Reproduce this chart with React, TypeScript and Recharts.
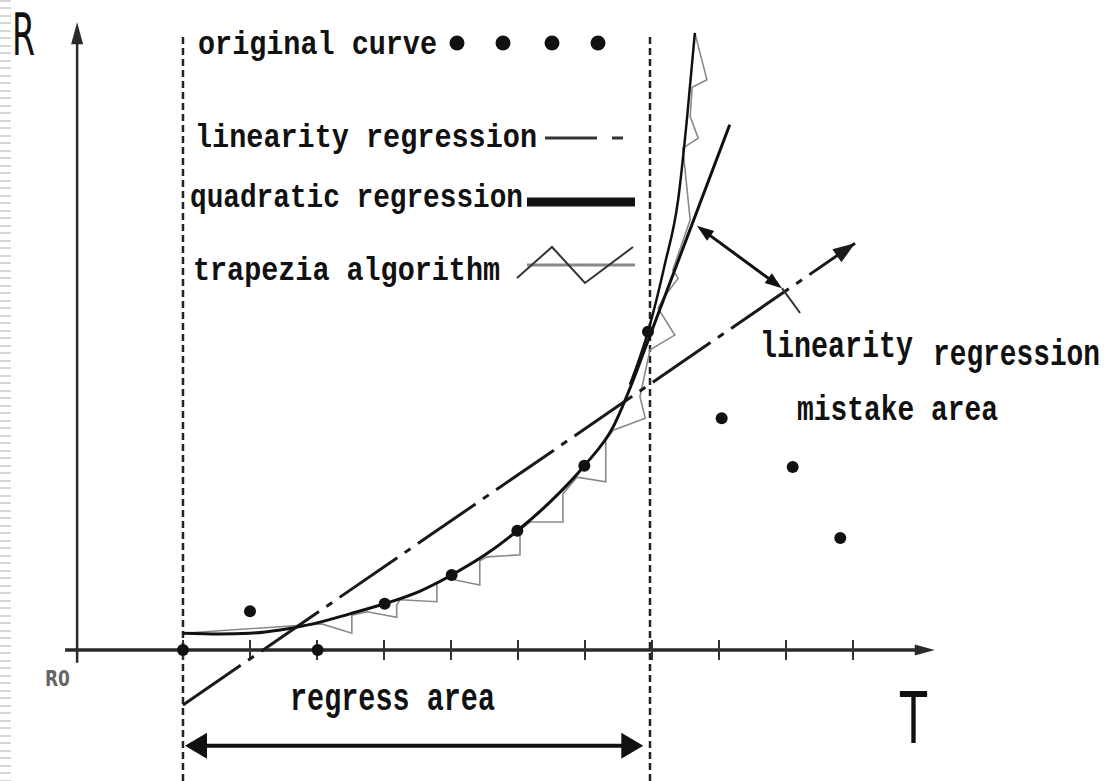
import React from 'react';
import { ComposedChart, Line, Scatter, XAxis, YAxis, ReferenceLine, ReferenceDot, Legend } from 'recharts';

// ---- data (T = time, R = resistance) ----
const originalCurve = [
  { T: 0, R: 0 }, { T: 1.0, R: 0.58 }, { T: 2.01, R: 0 }, { T: 3.01, R: 0.69 }, { T: 4.01, R: 1.12 },
  { T: 4.99, R: 1.78 }, { T: 5.99, R: 2.75 }, { T: 6.94, R: 4.75 }, { T: 8.04, R: 3.46 },
  { T: 9.1, R: 2.73 }, { T: 9.81, R: 1.67 },
];

const quadraticRegression = [
  { T: 0, R: 0.25 }, { T: 0.55, R: 0.24 }, { T: 1.0, R: 0.25 }, { T: 1.45, R: 0.3 }, { T: 1.94, R: 0.39 },
  { T: 2.49, R: 0.54 }, { T: 3.01, R: 0.69 }, { T: 3.54, R: 0.88 }, { T: 4.01, R: 1.12 }, { T: 4.51, R: 1.42 },
  { T: 4.99, R: 1.78 }, { T: 5.48, R: 2.21 }, { T: 5.99, R: 2.75 }, { T: 6.42, R: 3.33 }, { T: 6.72, R: 4.03 },
  { T: 6.87, R: 4.43 }, { T: 8.16, R: 7.84 },
];

const steepCurve = [
  { T: 6.67, R: 3.96 }, { T: 6.94, R: 4.75 }, { T: 7.19, R: 5.75 }, { T: 7.39, R: 6.72 },
  { T: 7.52, R: 7.91 }, { T: 7.64, R: 9.21 },
];

const trapeziaAlgorithm = [
  { T: 0, R: 0.25 }, { T: 2.07, R: 0.39 }, { T: 2.52, R: 0.25 }, { T: 2.52, R: 0.52 }, { T: 2.75, R: 0.57 },
  { T: 3.19, R: 0.49 }, { T: 3.19, R: 0.67 }, { T: 3.24, R: 0.75 }, { T: 3.79, R: 0.72 }, { T: 3.79, R: 0.99 },
  { T: 3.94, R: 1.07 }, { T: 4.43, R: 0.97 }, { T: 4.43, R: 1.33 }, { T: 4.54, R: 1.39 }, { T: 5.03, R: 1.42 },
  { T: 5.03, R: 1.79 }, { T: 5.18, R: 1.91 }, { T: 5.67, R: 1.91 }, { T: 5.67, R: 2.33 }, { T: 5.88, R: 2.58 },
  { T: 6.31, R: 2.51 }, { T: 6.31, R: 3.13 }, { T: 6.42, R: 3.28 }, { T: 6.9, R: 3.46 }, { T: 6.82, R: 3.78 },
  { T: 6.97, R: 4.48 }, { T: 7.34, R: 4.7 }, { T: 7.09, R: 5.1 }, { T: 7.19, R: 5.28 }, { T: 7.39, R: 5.55 },
  { T: 7.31, R: 5.67 }, { T: 7.57, R: 6.42 }, { T: 7.46, R: 7.49 }, { T: 7.69, R: 7.64 }, { T: 7.57, R: 7.96 },
  { T: 7.6, R: 8.4 }, { T: 7.82, R: 8.51 }, { T: 7.64, R: 9.21 },
];

const linearityRegression = [{ T: 0, R: -0.82 }, { T: 10.03, R: 6.07 }];

const xAxisLine = [{ T: -1.76, R: 0 }, { T: 11.22, R: 0 }];
const yAxisLine = [{ T: -1.58, R: -0.19 }, { T: -1.58, R: 9.37 }];
const tickValues = [0, 1, 2, 3, 4, 5, 6, 7, 8, 9, 10];
const tickHalf = 0.15;
const boundaryT = [0, 6.97];
const boundaryR = [-1.955, 9.2];
const regressArrow = [{ T: 0.03, R: -1.43 }, { T: 6.87, R: -1.43 }];
const mistakeArrow = [{ T: 7.67, R: 6.33 }, { T: 8.94, R: 5.4 }, { T: 9.21, R: 5.03 }];

const xDomain = [-2.731, 13.761];
const yDomain = [-1.955, 9.701];

const legendItems = ['original curve', 'linearity regression', 'quadratic regression', 'trapezia algorithm'];

// ---- helpers ----
const MONO = "'Liberation Mono', monospace";
const SANS = "'DejaVu Sans', sans-serif";

function headPoints(x1: number, y1: number, x2: number, y2: number, L: number, W: number) {
  const dx = x2 - x1, dy = y2 - y1;
  const len = Math.hypot(dx, dy) || 1;
  const ux = dx / len, uy = dy / len;
  const bx = x2 - ux * L, by = y2 - uy * L;
  const nx = -uy, ny = ux;
  return `${x2},${y2} ${bx + nx * W},${by + ny * W} ${bx - nx * W},${by - ny * W}`;
}

type ArrowOpts = { color: string; width: number; L?: number; W?: number; start?: boolean; end?: boolean; dash?: string; line?: boolean };

const arrowShape = (o: ArrowOpts) => (p: any) => {
  const x1 = Number(p.x1), y1 = Number(p.y1), x2 = Number(p.x2), y2 = Number(p.y2);
  const L = o.L ?? 0, W = o.W ?? 0;
  const len = Math.hypot(x2 - x1, y2 - y1) || 1;
  const ux = (x2 - x1) / len, uy = (y2 - y1) / len;
  const sx = o.start ? x1 + ux * L * 0.6 : x1;
  const sy = o.start ? y1 + uy * L * 0.6 : y1;
  const ex = o.end ? x2 - ux * L * 0.6 : x2;
  const ey = o.end ? y2 - uy * L * 0.6 : y2;
  return (
    <g>
      {o.line !== false && (
        <line x1={sx} y1={sy} x2={ex} y2={ey} stroke={o.color} strokeWidth={o.width} strokeDasharray={o.dash} />
      )}
      {o.end && <polygon points={headPoints(x1, y1, x2, y2, L, W)} fill={o.color} />}
      {o.start && <polygon points={headPoints(x2, y2, x1, y1, L, W)} fill={o.color} />}
    </g>
  );
};

type TextOpts = { size: number; family: string; sy?: number; length?: number; fill?: string; weight?: string | number };
const textShape = (txt: string, o: TextOpts) => (p: any) => (
  <text
    transform={`translate(${p.cx},${p.cy}) scale(1,${o.sy ?? 1})`}
    x={0}
    y={0}
    fontFamily={o.family}
    fontSize={o.size}
    fontWeight={o.weight ?? 'normal'}
    fill={o.fill ?? '#111'}
    textLength={o.length}
    lengthAdjust={o.length ? 'spacingAndGlyphs' : undefined}
  >
    {txt}
  </text>
);

const dotShape = (p: any) => <circle cx={p.cx} cy={p.cy} r={6} fill="#111" />;

function LegendBox() {
  // local legend layout (pixels inside the legend box)
  const rows = [
    { y: 39, x: 18, len: 239 },
    { y: 132, x: 15, len: 342 },
    { y: 192, x: 10, len: 333 },
    { y: 265, x: 13, len: 307 },
  ];
  return (
    <svg width={480} height={290} style={{ display: 'block', overflow: 'visible' }}>
      {legendItems.map((name, i) => (
        <text
          key={name}
          transform={`translate(${rows[i].x},${rows[i].y}) scale(1,1.18)`}
          x={0}
          y={0}
          fontFamily={MONO}
          fontSize={28}
          fontWeight="bold"
          fill="#111"
          textLength={rows[i].len}
          lengthAdjust="spacingAndGlyphs"
        >
          {name}
        </text>
      ))}
      {[277, 323, 372, 418].map((cx) => (
        <circle key={cx} cx={cx} cy={28} r={7.5} fill="#111" />
      ))}
      <line x1={365} y1={123} x2={417} y2={123} stroke="#333" strokeWidth={3} />
      <line x1={432} y1={123} x2={443} y2={123} stroke="#333" strokeWidth={3} />
      <line x1={347} y1={187} x2={455} y2={187} stroke="#111" strokeWidth={9} />
      <line x1={347} y1={250} x2={455} y2={250} stroke="#888" strokeWidth={3} />
      <polyline points="337,263 372,232 405,268 453,232" fill="none" stroke="#333" strokeWidth={2} />
    </svg>
  );
}

export default function App() {
  return (
    <div style={{ position: 'absolute', left: 0, top: 0, width: 1105, height: 781, background: '#fff', overflow: 'hidden' }}>
      <div
        style={{
          position: 'absolute', left: 0, top: 0, width: 11, height: 781,
          background: 'repeating-linear-gradient(to bottom, #d6d6d6 0px, #d6d6d6 2px, #ffffff 2px, #ffffff 7.5px)',
        }}
      />
      <ComposedChart width={1105} height={781} margin={{ top: 0, right: 0, bottom: 0, left: 0 }}>
        <XAxis type="number" dataKey="T" domain={xDomain} allowDataOverflow hide />
        <YAxis type="number" dataKey="R" domain={yDomain} allowDataOverflow hide />

        {/* regress-area boundaries */}
        {boundaryT.map((t) => (
          <ReferenceLine
            key={`b${t}`}
            segment={[{ x: t, y: boundaryR[0] }, { x: t, y: boundaryR[1] }]}
            stroke="#222"
            strokeWidth={2.5}
            strokeDasharray="7 4"
          />
        ))}

        {/* axes */}
        <ReferenceLine
          segment={[{ x: xAxisLine[0].T, y: xAxisLine[0].R }, { x: xAxisLine[1].T, y: xAxisLine[1].R }]}
          shape={arrowShape({ color: '#2a2a2a', width: 3.5, end: true, L: 20, W: 5.5 })}
        />
        <ReferenceLine
          segment={[{ x: yAxisLine[0].T, y: yAxisLine[0].R }, { x: yAxisLine[1].T, y: yAxisLine[1].R }]}
          shape={arrowShape({ color: '#2a2a2a', width: 2.5, end: true, L: 22, W: 6 })}
        />
        {tickValues.map((t) => (
          <ReferenceLine
            key={`t${t}`}
            segment={[{ x: t, y: -tickHalf }, { x: t, y: tickHalf }]}
            stroke="#333"
            strokeWidth={2}
          />
        ))}

        {/* series */}
        <Line data={trapeziaAlgorithm} dataKey="R" type="linear" stroke="#8a8a8a" strokeWidth={1.6} dot={false} activeDot={false} isAnimationActive={false} name="trapezia algorithm" />
        <Line data={linearityRegression} dataKey="R" type="linear" stroke="#1a1a1a" strokeWidth={3} strokeDasharray="70 9 7 9" dot={false} activeDot={false} isAnimationActive={false} name="linearity regression" />
        <Line data={quadraticRegression} dataKey="R" type="monotone" stroke="#111" strokeWidth={3} dot={false} activeDot={false} isAnimationActive={false} name="quadratic regression" />
        <Line data={steepCurve} dataKey="R" type="monotone" stroke="#111" strokeWidth={2.5} dot={false} activeDot={false} isAnimationActive={false} name="original" legendType="none" />
        <Scatter data={originalCurve} dataKey="R" shape={dotShape} isAnimationActive={false} name="original curve" />

        {/* linearity regression arrow head */}
        <ReferenceLine
          segment={[
            { x: linearityRegression[0].T, y: linearityRegression[0].R },
            { x: linearityRegression[1].T, y: linearityRegression[1].R },
          ]}
          shape={arrowShape({ color: '#1a1a1a', width: 0, end: true, L: 22, W: 8, line: false })}
        />

        {/* mistake-area double arrow */}
        <ReferenceLine
          segment={[{ x: mistakeArrow[0].T, y: mistakeArrow[0].R }, { x: mistakeArrow[1].T, y: mistakeArrow[1].R }]}
          shape={arrowShape({ color: '#111', width: 3, start: true, end: true, L: 17, W: 6 })}
        />
        <ReferenceLine
          segment={[{ x: mistakeArrow[1].T, y: mistakeArrow[1].R }, { x: mistakeArrow[2].T, y: mistakeArrow[2].R }]}
          stroke="#333"
          strokeWidth={2}
        />

        {/* regress-area double arrow */}
        <ReferenceLine
          segment={[{ x: regressArrow[0].T, y: regressArrow[0].R }, { x: regressArrow[1].T, y: regressArrow[1].R }]}
          shape={arrowShape({ color: '#111', width: 4, start: true, end: true, L: 22, W: 13 })}
        />

        {/* text labels */}
        <ReferenceDot x={-2.552} y={8.881} r={1} shape={textShape('R', { size: 34, sy: 1.72, family: SANS, length: 23 })} />
        <ReferenceDot x={10.701} y={-1.388} r={1} shape={textShape('T', { size: 44, sy: 1.6, family: SANS, length: 27 })} />
        <ReferenceDot x={-2.06} y={-0.537} r={1} shape={textShape('R0', { size: 17, sy: 1.25, family: SANS, length: 25, fill: '#666', weight: 'bold' })} />
        <ReferenceDot x={1.597} y={-0.896} r={1} shape={textShape('regress area', { size: 28.5, sy: 1.35, family: MONO, length: 205, weight: 'bold' })} />
        <ReferenceDot x={8.612} y={4.373} r={1} shape={textShape('linearity', { size: 28.3, sy: 1.32, family: MONO, length: 153, weight: 'bold' })} />
        <ReferenceDot x={11.194} y={4.254} r={1} shape={textShape('regression', { size: 27.8, sy: 1.32, family: MONO, length: 167, weight: 'bold' })} />
        <ReferenceDot x={9.164} y={3.433} r={1} shape={textShape('mistake area', { size: 27.9, sy: 1.28, family: MONO, length: 201, weight: 'bold' })} />

        <Legend
          layout="vertical"
          align="center"
          verticalAlign="middle"
          content={() => <LegendBox />}
          wrapperStyle={{ left: 180, top: 15, width: 480, height: 290 }}
        />
      </ComposedChart>
    </div>
  );
}
